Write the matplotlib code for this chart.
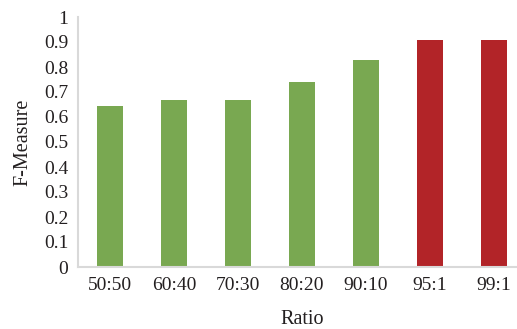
import numpy as np
import matplotlib
matplotlib.use("Agg")
import matplotlib.pyplot as plt

# F-measure for each training ratio
ratios = ["50:50", "60:40", "70:30", "80:20", "90:10", "95:1", "99:1"]
f_measure = [0.645, 0.67, 0.67, 0.74, 0.83, 0.91, 0.91]
bar_colors = ["#79A851"] * 5 + ["#B22428"] * 2

plt.rcParams["font.family"] = ["Liberation Serif", "DejaVu Serif"]

fig = plt.figure(figsize=(5.17, 3.29), dpi=100)
# axes deliberately runs past the right edge of the figure
ax = fig.add_axes([78 / 517, (329 - 267) / 329, 448 / 517, 250 / 329])

x = np.arange(len(ratios))
ax.bar(x, f_measure, width=0.4, color=bar_colors, zorder=2)

ax.set_xlim(-0.5, 6.5)
ax.set_ylim(0, 1)
ax.set_yticks(np.arange(0, 1.01, 0.1))
ax.set_yticklabels(["0"] + ["%.1f" % v for v in np.arange(0.1, 0.95, 0.1)] + ["1"])
ax.set_xticks(x)
ax.set_xticklabels(ratios)
ax.tick_params(axis="both", length=0, labelsize=14, colors="#231F20")
ax.tick_params(axis="y", pad=7)
ax.tick_params(axis="x", pad=7.5)

for side in ["top", "right"]:
    ax.spines[side].set_visible(False)
for side in ["left", "bottom"]:
    ax.spines[side].set_color("#D9D9D9")
    ax.spines[side].set_linewidth(1.5)

ax.set_xlabel("Ratio", fontsize=14.5, color="#231F20", labelpad=11)
ax.set_ylabel("F-Measure", fontsize=14.5, color="#231F20", labelpad=8)

fig.savefig("out.png", dpi=100)
